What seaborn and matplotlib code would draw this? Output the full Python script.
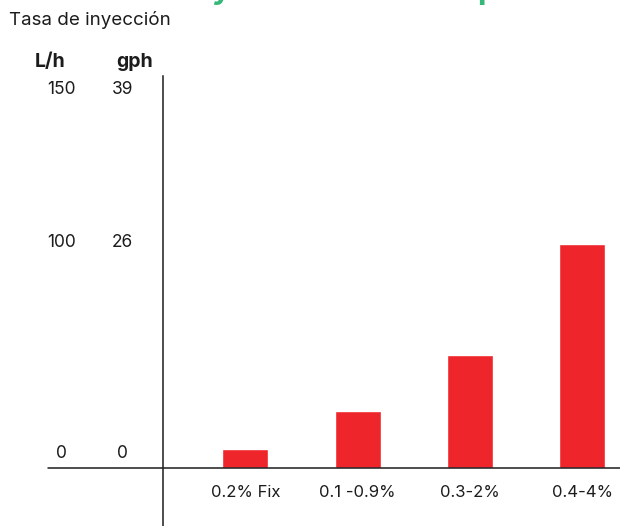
import matplotlib
matplotlib.use("Agg")
import matplotlib.pyplot as plt
import matplotlib.transforms as mtransforms
import pandas as pd
import seaborn as sns

# Data (injection rate, L/h)
CATEGORIES = ["0.2% Fix", "0.1 -0.9%", "0.3-2%", "0.4-4%"]
RATE_LH = [8.5, 25.4, 50.4, 100]

# Axis labels: two unit columns
LH_LABELS = ["0", "100", "150"]
GPH_LABELS = ["0", "26", "39"]
LABEL_Y = [6.5, 100.5, 169]   # where the labels sit on the L/h scale

BAR_COLOR = "#ee252b"
TEXT_COLOR = "#1c1c1c"
GREEN = "#36b87a"

sns.set_theme(style="white")
plt.rcParams["font.family"] = ["Inter", "DejaVu Sans"]

fig = plt.figure(figsize=(6.2, 5.26), dpi=100)
ax = fig.add_axes([162.7 / 620, 0.0, 1 - 162.7 / 620, 1 - 76 / 526])

df = pd.DataFrame({"cat": CATEGORIES, "rate": RATE_LH})
sns.barplot(data=df, x="cat", y="rate", color=BAR_COLOR, saturation=1,
            width=0.41, ax=ax)

ax.set_xlim(-0.736, 3.337)
ax.set_ylim(-25.9, 175)
ax.set_xlabel("")
ax.set_ylabel("")
ax.set_xticks([])
ax.set_yticks([])
for side in ["top", "right", "bottom"]:
    ax.spines[side].set_visible(False)
ax.spines["left"].set_color(TEXT_COLOR)
ax.spines["left"].set_linewidth(1.1)

# baseline runs left past the y axis, under the label columns
ax.axhline(0, xmin=(47 - 162.7) / 459.3, xmax=1, color=TEXT_COLOR,
           lw=1.1, clip_on=False, zorder=3)

# category labels under the baseline
for i, cat in enumerate(CATEGORIES):
    ax.text(i, -11, cat, ha="center", va="center", fontsize=12,
            color=TEXT_COLOR)

trans = mtransforms.blended_transform_factory(ax.transAxes, ax.transData)
for y, lh, gph in zip(LABEL_Y, LH_LABELS, GPH_LABELS):
    ax.text(-0.222, y, lh, transform=trans, ha="center", va="center",
            fontsize=12.5, color=TEXT_COLOR)
    ax.text(-0.088, y, gph, transform=trans, ha="center", va="center",
            fontsize=12.5, color=TEXT_COLOR)

fig.text(50 / 620, 1 - 62 / 526, "L/h", ha="center", va="center",
         fontsize=14, fontweight="bold", color=TEXT_COLOR)
fig.text(135 / 620, 1 - 62 / 526, "gph", ha="center", va="center",
         fontsize=14, fontweight="bold", color=TEXT_COLOR)

fig.text(9 / 620, 1 - 20 / 526, "Tasa de inyección", ha="left",
         va="center", fontsize=13.5, color=TEXT_COLOR)

# title sits above the frame; only its descenders show
fig.text(14 / 620, 1 + 1 / 526, "Dosificación y caudal nominal por modelo",
         ha="left", va="baseline", fontsize=22.5, fontweight="bold",
         color=GREEN)

fig.savefig("out.png", dpi=100, facecolor="white")
